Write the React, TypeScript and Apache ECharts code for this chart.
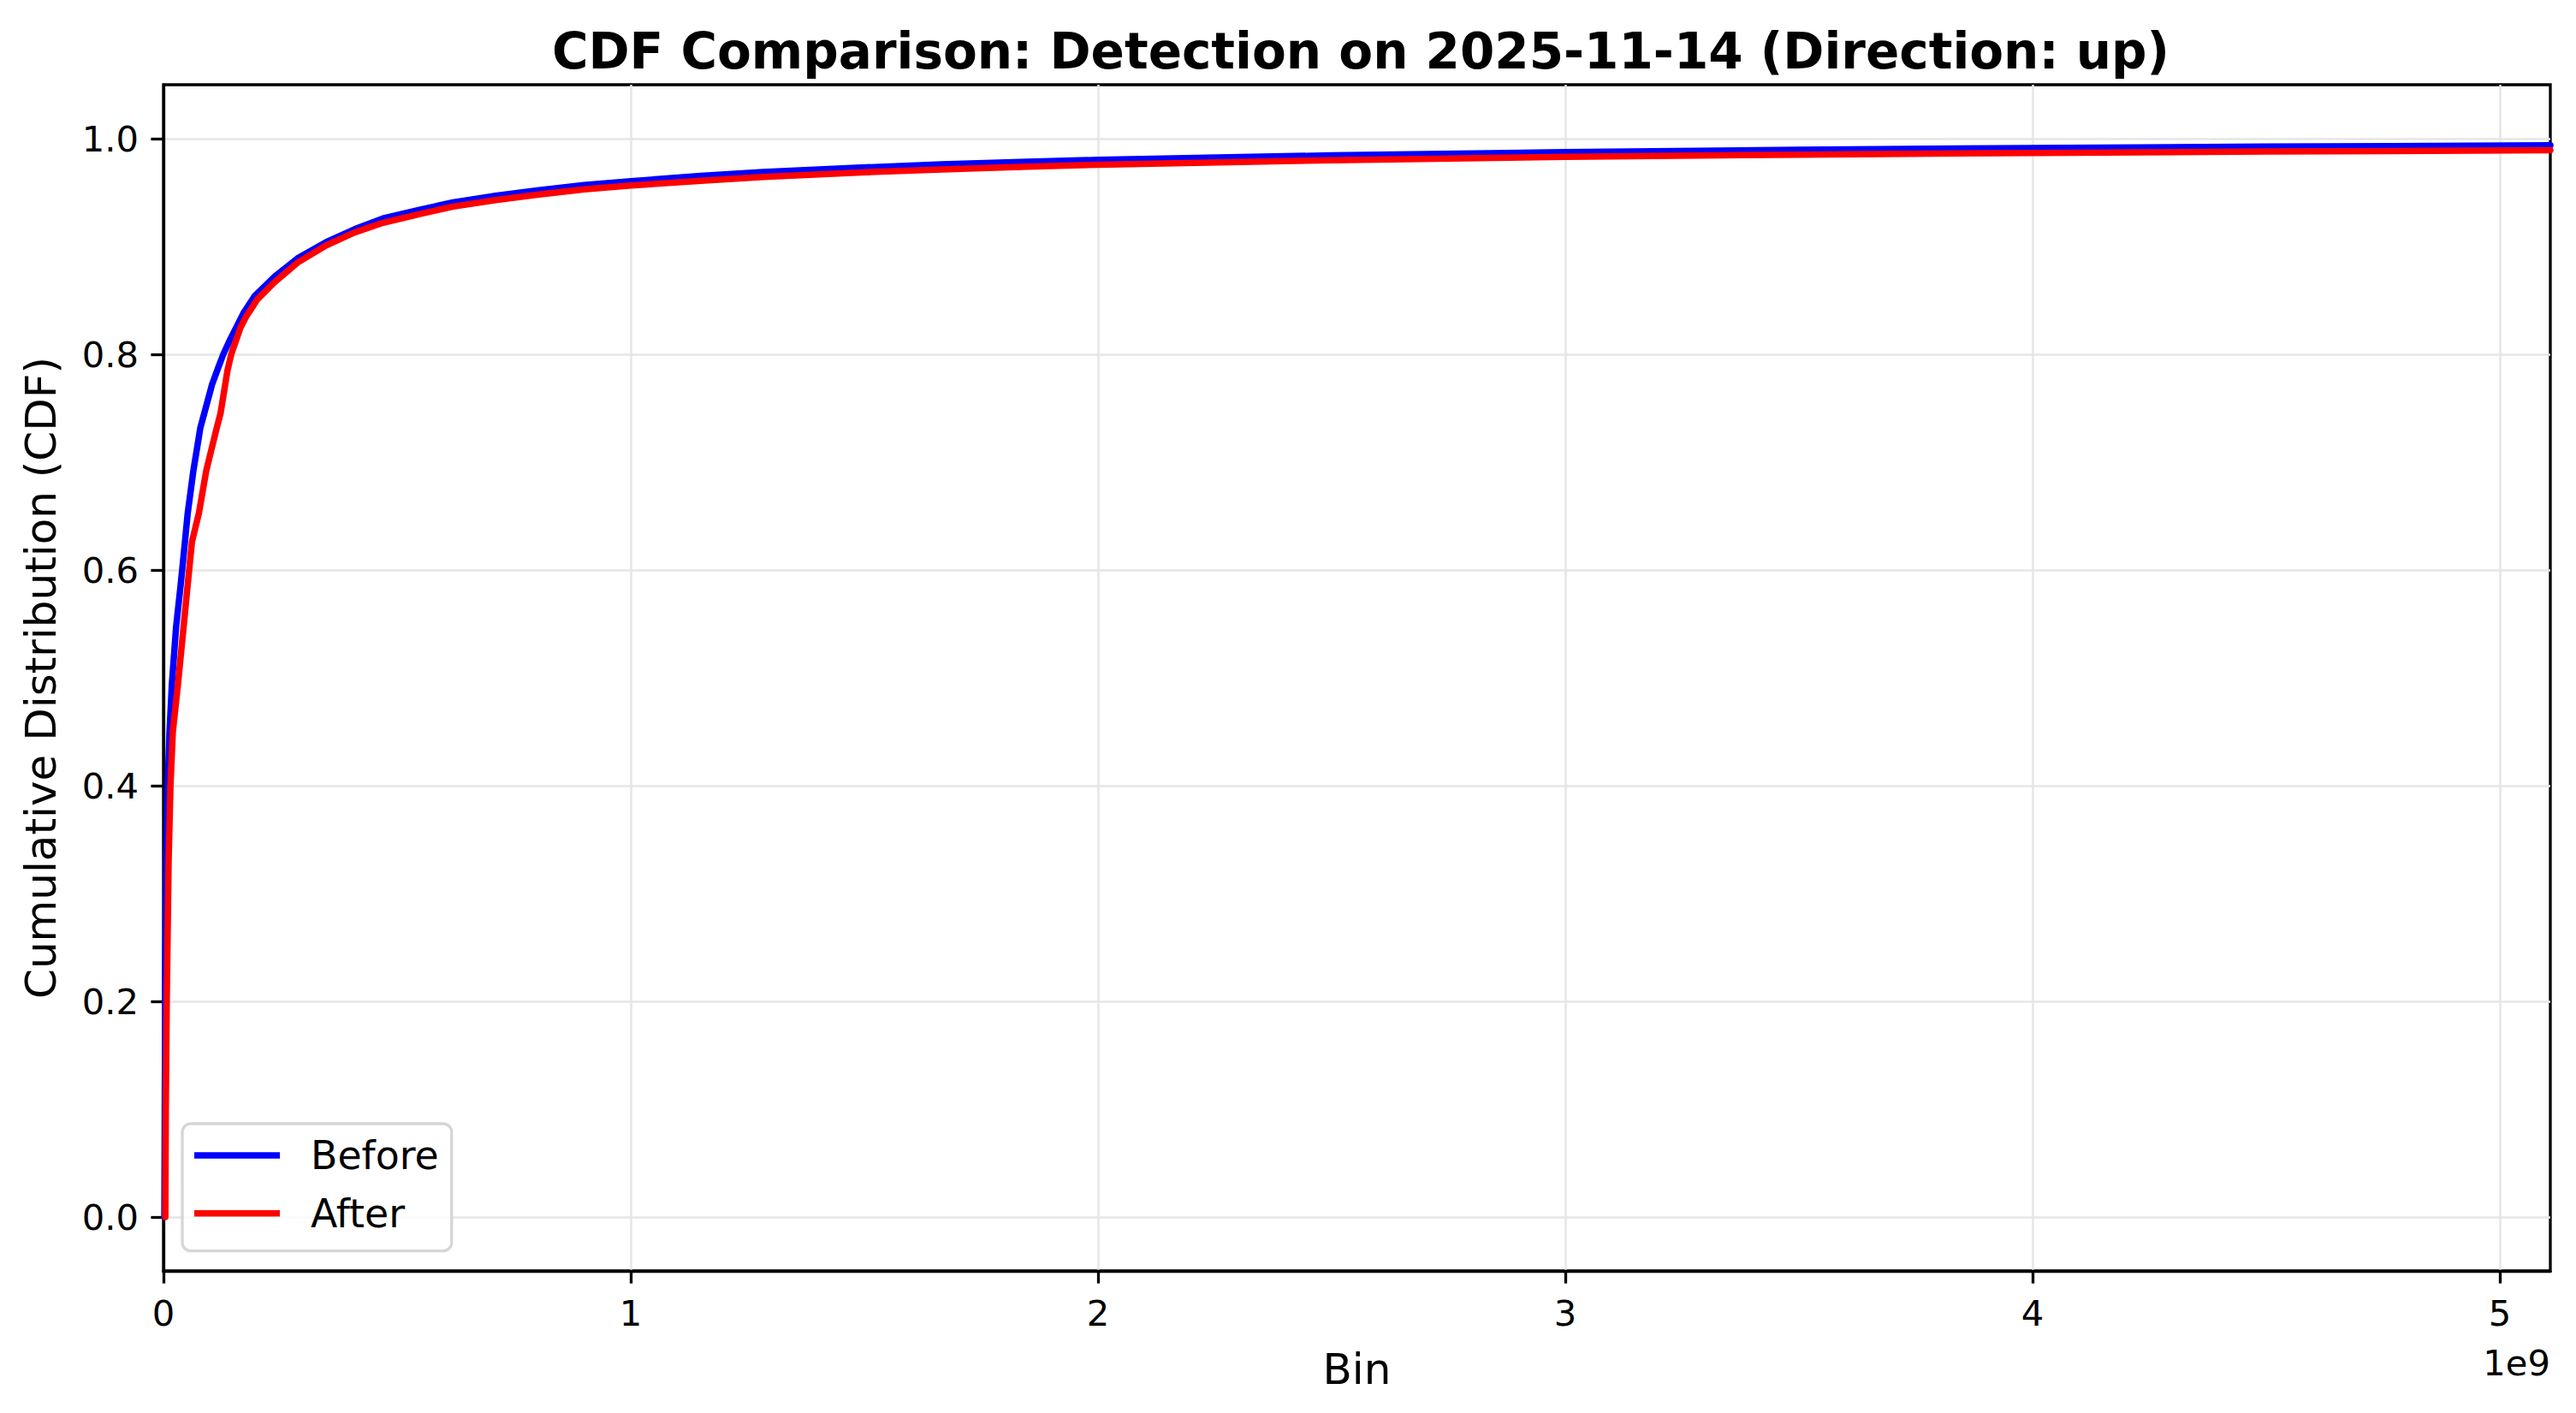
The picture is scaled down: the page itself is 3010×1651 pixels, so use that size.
import React, { useEffect, useRef } from "react";
import * as echarts from "echarts";

const TITLE = "CDF Comparison: Detection on 2025-11-14 (Direction: up)";
const X_NAME = "Bin";
const Y_NAME = "Cumulative Distribution (CDF)";
const SERIES_NAMES = ["Before", "After"];
const X_MAX = 5.108e9;
const X_TICKS = [0, 1e9, 2e9, 3e9, 4e9, 5e9];
const Y_TICKS = [0, 0.2, 0.4, 0.6, 0.8, 1.0];

const beforeX = [
  0.002e9, 0.003e9, 0.004e9, 0.006e9, 0.009e9, 0.013e9, 0.018e9, 0.027e9, 0.037e9, 0.043e9,
  0.052e9, 0.064e9, 0.079e9, 0.104e9, 0.115e9, 0.128e9, 0.143e9, 0.171e9, 0.195e9, 0.238e9,
  0.287e9, 0.348e9, 0.409e9, 0.47e9, 0.548e9, 0.62e9, 0.711e9, 0.8e9, 0.9e9, 1.0e9,
  1.15e9, 1.283e9, 1.483e9, 1.666e9, 1.849e9, 2.0e9, 2.5e9, 3.0e9, 3.5e9, 4.0e9,
  4.5e9, 5.108e9,
];
const beforeY = [
  0.0, 0.12, 0.22, 0.33, 0.4, 0.45, 0.494, 0.547, 0.587, 0.613,
  0.653, 0.692, 0.732, 0.772, 0.785, 0.8, 0.814, 0.838, 0.854, 0.872,
  0.889, 0.904, 0.916, 0.926, 0.934, 0.941, 0.947, 0.952, 0.957, 0.9605,
  0.9655, 0.969, 0.973, 0.9762, 0.9785, 0.9803, 0.9845, 0.9875, 0.9897, 0.9913,
  0.9926, 0.9938,
];

const afterX = [
  0.004e9, 0.005e9, 0.007e9, 0.011e9, 0.015e9, 0.02e9, 0.031e9, 0.043e9, 0.052e9, 0.061e9,
  0.076e9, 0.0915e9, 0.113e9, 0.122e9, 0.137e9, 0.145e9, 0.165e9, 0.177e9, 0.201e9, 0.238e9,
  0.287e9, 0.348e9, 0.409e9, 0.47e9, 0.548e9, 0.62e9, 0.711e9, 0.8e9, 0.9e9, 1.0e9,
  1.15e9, 1.283e9, 1.483e9, 1.666e9, 1.849e9, 2.0e9, 2.5e9, 3.0e9, 3.5e9, 4.0e9,
  4.5e9, 5.108e9,
];
const afterY = [
  0.0, 0.1, 0.2, 0.33, 0.4, 0.45, 0.494, 0.547, 0.587, 0.626,
  0.653, 0.692, 0.73, 0.745, 0.785, 0.8, 0.825, 0.835, 0.851, 0.867,
  0.885, 0.901, 0.913, 0.922, 0.93, 0.937, 0.943, 0.948, 0.953, 0.9565,
  0.961, 0.9645, 0.9685, 0.9715, 0.974, 0.9758, 0.98, 0.9832, 0.9852, 0.9868,
  0.988, 0.9893,
];

const FONT = "DejaVu Sans";

export default function App() {
  const ref = useRef<HTMLDivElement>(null);
  useEffect(() => {
    if (!ref.current) return;
    const chart = echarts.init(ref.current, null, { renderer: "svg" });
    const pair = (xs: number[], ys: number[]) => xs.map((x, i) => [x, ys[i]]);
    chart.setOption({
      animation: false,
      backgroundColor: "#ffffff",
      title: {
        text: TITLE,
        left: 1585,
        top: 26,
        textAlign: "center",
        textStyle: { fontFamily: FONT, fontSize: 58, fontWeight: "bold", color: "#000" },
      },
      grid: {
        left: 191,
        top: 99,
        right: 30,
        bottom: 166,
        show: true,
        borderColor: "#000",
        borderWidth: 3.3,
        backgroundColor: "transparent",
      },
      legend: {
        orient: "vertical",
        left: 213,
        top: 1313,
        icon: "rect",
        itemWidth: 100,
        itemHeight: 7.5,
        itemGap: 21.7,
        padding: [14, 15, 21, 14],
        borderColor: "#d6d6d6",
        borderWidth: 3.3,
        borderRadius: 10,
        backgroundColor: "rgba(255,255,255,0.8)",
        textStyle: { fontFamily: FONT, fontSize: 45.8, color: "#000", padding: [0, 0, 0, 31] },
        data: SERIES_NAMES,
      },
      xAxis: {
        type: "value",
        min: 0,
        max: X_MAX,
        name: X_NAME,
        nameLocation: "middle",
        nameGap: 90,
        nameTextStyle: { fontFamily: FONT, fontSize: 50, color: "#000" },
        axisLine: { show: true, onZero: false, lineStyle: { color: "#000", width: 3.3 } },
        axisTick: {
          show: true,
          length: 14.6,
          customValues: X_TICKS,
          lineStyle: { color: "#000", width: 3.3 },
        },
        axisLabel: {
          fontFamily: FONT,
          fontSize: 41.7,
          color: "#000",
          margin: 28,
          customValues: X_TICKS,
          formatter: (v: number) => String(Math.round(v / 1e9)),
        },
        splitLine: { show: true, lineStyle: { color: "#e6e6e6", width: 2.5 } },
      },
      yAxis: {
        type: "value",
        min: -0.05,
        max: 1.05,
        name: Y_NAME,
        nameLocation: "middle",
        nameGap: 118,
        nameTextStyle: { fontFamily: FONT, fontSize: 50, color: "#000" },
        axisLine: { show: true, onZero: false, lineStyle: { color: "#000", width: 3.3 } },
        axisTick: {
          show: true,
          length: 14.6,
          customValues: Y_TICKS,
          lineStyle: { color: "#000", width: 3.3 },
        },
        axisLabel: {
          fontFamily: FONT,
          fontSize: 41.7,
          color: "#000",
          margin: 29,
          customValues: Y_TICKS,
          formatter: (v: number) => v.toFixed(1),
        },
        splitLine: { show: true, lineStyle: { color: "#e6e6e6", width: 2.5 } },
      },
      graphic: [
        {
          type: "text",
          right: 30,
          top: 1571,
          style: { text: "1e9", fontFamily: FONT, fontSize: 41.7, fill: "#000" },
        },
      ],
      series: [
        {
          name: SERIES_NAMES[0],
          type: "line",
          data: pair(beforeX, beforeY),
          showSymbol: false,
          symbol: "none",
          color: "#0000ff",
          lineStyle: { color: "#0000ff", width: 7.5, join: "round", cap: "round" },
          z: 3,
        },
        {
          name: SERIES_NAMES[1],
          type: "line",
          data: pair(afterX, afterY),
          showSymbol: false,
          symbol: "none",
          color: "#ff0000",
          lineStyle: { color: "#ff0000", width: 7.5, join: "round", cap: "round" },
          z: 4,
        },
      ],
    });
    return () => chart.dispose();
  }, []);
  return (
    <div
      ref={ref}
      style={{ position: "fixed", left: 0, top: 0, width: 3010, height: 1651, background: "#fff" }}
    />
  );
}
